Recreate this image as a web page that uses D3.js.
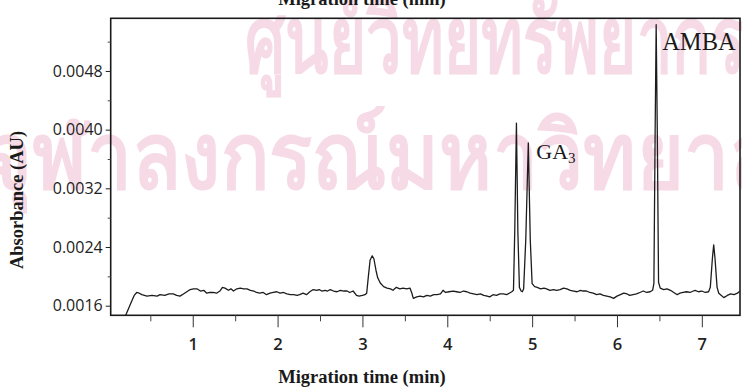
<!DOCTYPE html>
<html>
<head>
<meta charset="utf-8">
<script src="https://cdn.jsdelivr.net/npm/d3@7"></script>
<style>
  html, body { margin: 0; padding: 0; background: #fff; }
  svg { display: block; }
</style>
</head>
<body>
<svg id="chart" width="742" height="387"></svg>
<script>
// Electropherogram trace: migration time (min) and absorbance (AU)
const times = [
  0.21, 0.25, 0.28, 0.31, 0.34, 0.37, 0.40, 0.46, 0.52, 0.58, 0.615, 0.67, 0.72, 0.77, 0.81, 0.85, 0.89, 0.93, 0.97,
  1.01, 1.05, 1.09, 1.13, 1.165, 1.20, 1.24, 1.28, 1.32, 1.35, 1.38, 1.42, 1.45, 1.48, 1.52, 1.56, 1.60, 1.64, 1.68,
  1.72, 1.75, 1.79, 1.83, 1.87, 1.91, 1.95, 1.99, 2.03, 2.07, 2.11, 2.15, 2.19, 2.23, 2.26, 2.30, 2.34, 2.38, 2.42,
  2.46, 2.49, 2.52, 2.56, 2.59, 2.62, 2.66, 2.70, 2.74, 2.78, 2.82, 2.85, 2.89, 2.93, 2.96, 3.00, 3.03, 3.05, 3.07,
  3.09, 3.115, 3.135, 3.16, 3.18, 3.21, 3.25, 3.29, 3.33, 3.36, 3.40, 3.44, 3.48, 3.52, 3.56, 3.58, 3.60, 3.64, 3.68,
  3.72, 3.76, 3.80, 3.84, 3.88, 3.92, 3.95, 3.98, 4.02, 4.07, 4.11, 4.15, 4.19, 4.23, 4.27, 4.31, 4.35, 4.39, 4.43,
  4.47, 4.50, 4.54, 4.58, 4.62, 4.66, 4.70, 4.73, 4.76, 4.78, 4.795, 4.815, 4.832, 4.85, 4.87, 4.885, 4.90, 4.925,
  4.955, 4.978, 5.00, 5.03, 5.06, 5.10, 5.14, 5.17, 5.21, 5.25, 5.29, 5.33, 5.37, 5.41, 5.45, 5.49, 5.53, 5.57, 5.60,
  5.64, 5.68, 5.72, 5.76, 5.80, 5.84, 5.88, 5.92, 5.96, 6.00, 6.04, 6.08, 6.12, 6.15, 6.19, 6.23, 6.27, 6.31, 6.35,
  6.39, 6.42, 6.435, 6.45, 6.462, 6.475, 6.49, 6.51, 6.55, 6.59, 6.63, 6.67, 6.71, 6.74, 6.78, 6.82, 6.86, 6.90, 6.92,
  6.96, 7.00, 7.04, 7.08, 7.10, 7.125, 7.14, 7.155, 7.18, 7.20, 7.22, 7.26, 7.30, 7.34, 7.38, 7.42, 7.44, 7.46
];
const absorbance = [
  0.00147, 0.00158, 0.00166, 0.00174, 0.00178, 0.00177, 0.00175, 0.00173, 0.00174, 0.00173, 0.00175, 0.00174, 0.00176, 0.00176, 0.00174, 0.00173, 0.00176, 0.00179, 0.00182,
  0.00183, 0.00183, 0.00180, 0.00181, 0.00177, 0.00178, 0.00178, 0.00177, 0.00180, 0.00185, 0.00184, 0.00181, 0.00183, 0.00180, 0.00183, 0.00184, 0.00183, 0.00183, 0.00181,
  0.00180, 0.00178, 0.00177, 0.00178, 0.00175, 0.00177, 0.00178, 0.00179, 0.00177, 0.00178, 0.00176, 0.00175, 0.00175, 0.00174, 0.00175, 0.00177, 0.00175, 0.00179, 0.00182,
  0.00181, 0.00182, 0.00180, 0.00181, 0.00180, 0.00182, 0.00180, 0.00179, 0.00181, 0.00180, 0.00180, 0.00178, 0.00180, 0.00174, 0.00173, 0.00174, 0.00175, 0.00177, 0.00200,
  0.00222, 0.00228, 0.00224, 0.00208, 0.00198, 0.00191, 0.00186, 0.00184, 0.00183, 0.00181, 0.00185, 0.00183, 0.00184, 0.00183, 0.00184, 0.00178, 0.00170, 0.00172, 0.00173,
  0.00172, 0.00174, 0.00173, 0.00175, 0.00175, 0.00176, 0.00181, 0.00178, 0.00179, 0.00180, 0.00179, 0.00178, 0.00180, 0.00179, 0.00177, 0.00176, 0.00175, 0.00176, 0.00174,
  0.00173, 0.00172, 0.00175, 0.00174, 0.00176, 0.00176, 0.00175, 0.00177, 0.00179, 0.00181, 0.00260, 0.00409, 0.00260, 0.00185, 0.00180, 0.00179, 0.00183, 0.00250,
  0.00382, 0.00250, 0.00190, 0.00186, 0.00185, 0.00183, 0.00184, 0.00183, 0.00181, 0.00182, 0.00181, 0.00182, 0.00184, 0.00183, 0.00181, 0.00180, 0.00179, 0.00181, 0.00180,
  0.00180, 0.00178, 0.00177, 0.00175, 0.00176, 0.00174, 0.00173, 0.00172, 0.00170, 0.00173, 0.00175, 0.00177, 0.00176, 0.00174, 0.00175, 0.00176, 0.00178, 0.00180, 0.00178,
  0.00179, 0.00181, 0.00190, 0.00400, 0.00543, 0.00400, 0.00192, 0.00184, 0.00182, 0.00183, 0.00181, 0.00178, 0.00175, 0.00177, 0.00178, 0.00179, 0.00178, 0.00180, 0.00181,
  0.00179, 0.00180, 0.00178, 0.00179, 0.00185, 0.00225, 0.00243, 0.00225, 0.00185, 0.00177, 0.00175, 0.00171, 0.00174, 0.00176, 0.00175, 0.00177, 0.00179, 0.00180
];

// Axis ticks
const xMajorTicks = [1, 2, 3, 4, 5, 6, 7];
const xMinorTicks = [0.5, 1.5, 2.5, 3.5, 4.5, 5.5, 6.5];
const yMajorTicks = [0.0016, 0.0024, 0.0032, 0.0040, 0.0048];
const yMinorTicks = [0.0020, 0.0028, 0.0036, 0.0044, 0.0052];

// Peak annotations
const peakNames = ["GA", "AMBA"];
const peakSubs = ["3", ""];

const xTitle = "Migration time (min)";
const yTitle = "Absorbance (AU)";
const watermarkLines = ["ศูนย์วิทยทรัพยากร", "จุฬาลงกรณ์มหาวิทยาลัย"];

const svg = d3.select("#chart");
const plot = { left: 110.7, right: 740, top: 18.3, bottom: 315.3 };

const x = d3.scaleLinear().domain([0.033, 7.45]).range([plot.left, plot.right]);
const y = d3.scaleLinear().domain([0.001469, 0.005518]).range([plot.bottom, plot.top]);

// Faint library watermark behind the chart (condensed to fit its rows)
const wm = svg.append("g").attr("fill", "#f6dbe6")
  .attr("font-family", "'Noto Sans', 'DejaVu Sans', sans-serif")
  .attr("font-weight", 700)
  .attr("font-size", 92);
wm.append("text").attr("x", 245).attr("y", 72)
  .attr("textLength", 500).attr("lengthAdjust", "spacingAndGlyphs").text(watermarkLines[0]);
wm.append("text").attr("x", -15).attr("y", 188)
  .attr("textLength", 840).attr("lengthAdjust", "spacingAndGlyphs").text(watermarkLines[1]);

// Trace
svg.append("defs").append("clipPath").attr("id", "plotClip")
  .append("rect")
  .attr("x", plot.left).attr("y", plot.top)
  .attr("width", plot.right - plot.left).attr("height", plot.bottom - plot.top);

const line = d3.line().x((d, i) => x(times[i])).y(d => y(d));
svg.append("path")
  .datum(absorbance)
  .attr("clip-path", "url(#plotClip)")
  .attr("fill", "none")
  .attr("stroke", "#1c1c1c")
  .attr("stroke-width", 1.3)
  .attr("stroke-linejoin", "round")
  .attr("d", line);

// Frame
svg.append("rect")
  .attr("x", plot.left).attr("y", plot.top)
  .attr("width", plot.right - plot.left).attr("height", plot.bottom - plot.top)
  .attr("fill", "none").attr("stroke", "#1a1a1a").attr("stroke-width", 1.6);

// X axis
const xAxis = d3.axisBottom(x).tickValues(xMajorTicks).tickFormat(d3.format("d")).tickSize(12).tickPadding(11);
const gx = svg.append("g").attr("transform", `translate(0,${plot.bottom})`).call(xAxis);
gx.select(".domain").remove();
gx.selectAll(".tick line").attr("stroke", "#333").attr("stroke-width", 1);
gx.selectAll(".tick text")
  .attr("font-family", "'Open Sans', sans-serif").attr("font-weight", 600)
  .attr("font-size", 16.5).attr("fill", "#222");
const gxm = svg.append("g").attr("transform", `translate(0,${plot.bottom})`)
  .call(d3.axisBottom(x).tickValues(xMinorTicks).tickFormat("").tickSize(6));
gxm.select(".domain").remove();
gxm.selectAll(".tick line").attr("stroke", "#444").attr("stroke-width", 1);

// Y axis
const yAxis = d3.axisLeft(y).tickValues(yMajorTicks).tickFormat(d3.format(".4f")).tickSize(5).tickPadding(3);
const gy = svg.append("g").attr("transform", `translate(${plot.left},0)`).call(yAxis);
gy.select(".domain").remove();
gy.selectAll(".tick line").attr("stroke", "#222").attr("stroke-width", 1);
gy.selectAll(".tick text")
  .attr("font-family", "'Open Sans', sans-serif")
  .attr("font-size", 16).attr("fill", "#222");
const gym = svg.append("g").attr("transform", `translate(${plot.left},0)`)
  .call(d3.axisLeft(y).tickValues(yMinorTicks).tickFormat("").tickSize(3));
gym.select(".domain").remove();
gym.selectAll(".tick line").attr("stroke", "#444").attr("stroke-width", 1);

// Axis titles
const titleStyle = sel => sel
  .attr("font-family", "'Liberation Serif', 'Times New Roman', serif")
  .attr("font-weight", "bold").attr("font-size", 18.5).attr("fill", "#1a1a1a");
svg.append("text").call(titleStyle).attr("x", 362).attr("y", 383).attr("text-anchor", "middle").text(xTitle);
svg.append("text").call(titleStyle).attr("x", 362).attr("y", 5).attr("text-anchor", "middle").text(xTitle);
svg.append("text").call(titleStyle)
  .attr("transform", "translate(23,200) rotate(-90)")
  .attr("text-anchor", "middle").text(yTitle);

// Peak labels
const labelStyle = sel => sel
  .attr("font-family", "'Liberation Serif', 'Times New Roman', serif")
  .attr("font-size", 22).attr("fill", "#1a1a1a");
const ga = svg.append("text").call(labelStyle).attr("x", x(4.955) + 8).attr("y", 159);
ga.append("tspan").text(peakNames[0]);
ga.append("tspan").attr("font-size", 15).attr("dy", 4).text(peakSubs[0]);
svg.append("text").call(labelStyle).attr("font-size", 24.5)
  .attr("x", x(6.462) + 6).attr("y", 50).text(peakNames[1]);
</script>
</body>
</html>
